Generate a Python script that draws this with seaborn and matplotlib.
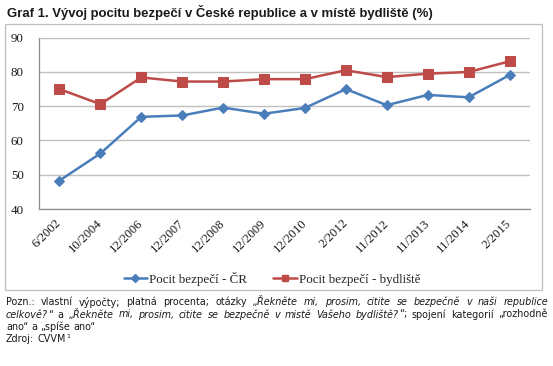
import matplotlib
matplotlib.use('Agg')
import matplotlib.pyplot as plt
import seaborn as sns
import pandas as pd
from matplotlib.patches import Rectangle
from matplotlib.lines import Line2D

periods = ["6/2002", "10/2004", "12/2006", "12/2007", "12/2008", "12/2009",
           "12/2010", "2/2012", "11/2012", "11/2013", "11/2014", "2/2015"]
pocit_cr = [48.3, 56.2, 66.9, 67.3, 69.6, 67.8, 69.5, 75.0, 70.3, 73.3, 72.6, 79.1]
pocit_bydliste = [75.0, 70.6, 78.4, 77.2, 77.2, 77.9, 77.9, 80.5, 78.5, 79.5, 80.0, 83.1]
y_ticks = [40, 50, 60, 70, 80, 90]
series_names = ["Pocit bezpečí - ČR", "Pocit bezpečí - bydliště"]
colors = ["#4a7ebb", "#be4b48"]

title = "Graf 1. Vývoj pocitu bezpečí v České republice a v místě bydliště (%)"

sns.set_theme(style="white")
plt.rcParams['font.family'] = ['DejaVu Sans']

W, H = 553, 366
fig = plt.figure(figsize=(W / 100, H / 100), dpi=100)
renderer = fig.canvas.get_renderer()

def fx(px):
    return px / W

def fy(py):
    return 1 - py / H

ax_left, ax_right, ax_top, ax_bottom = 39, 530, 37.7, 209
ax = fig.add_axes([fx(ax_left), fy(ax_bottom), fx(ax_right - ax_left), (ax_bottom - ax_top) / H])

df = pd.DataFrame({"pos": list(range(len(periods))), "cr": pocit_cr, "byd": pocit_bydliste})

sns.lineplot(data=df, x="pos", y="cr", ax=ax, color=colors[0], marker="D",
             markersize=5.4, markeredgecolor=colors[0], linewidth=1.8, sort=False)
sns.lineplot(data=df, x="pos", y="byd", ax=ax, color=colors[1], marker="s",
             markersize=6.6, markeredgecolor=colors[1], linewidth=1.8, sort=False)

tick_font = "Liberation Serif"
ax.set_xlim(-0.5, len(periods) - 0.5)
ax.set_ylim(40, 90)
ax.set_yticks(y_ticks)
ax.set_xticks(range(len(periods)))
ax.set_xticklabels(periods, rotation=45, ha="right", va="center", rotation_mode="anchor",
                   family=tick_font, fontsize=9.2, color="#1a1a1a")
ax.set_yticklabels([str(v) for v in y_ticks], family=tick_font, fontsize=9.4, color="#1a1a1a")
ax.set_xlabel("")
ax.set_ylabel("")
ax.grid(axis="y", color="#c0c0c0", linewidth=1.0)
ax.set_axisbelow(True)
for s in ["top", "right"]:
    ax.spines[s].set_visible(False)
for s in ["left", "bottom"]:
    ax.spines[s].set_color("#8c8c8c")
    ax.spines[s].set_linewidth(0.9)
ax.tick_params(axis="y", length=0, pad=11)
ax.tick_params(axis="x", length=0, pad=9)

handles = [Line2D([], [], color=colors[0], marker="D", markersize=4, linewidth=1.8),
           Line2D([], [], color=colors[1], marker="s", markersize=5, linewidth=1.8)]
fig.legend(handles, series_names, loc="center", bbox_to_anchor=(fx(272), fy(279)), ncol=2,
           frameon=False, prop={"family": tick_font, "size": 9.4},
           handlelength=1.8, handletextpad=0.15, columnspacing=2.0)

# frame around chart
fig.patches.append(Rectangle((fx(5), fy(290)), fx(542 - 5), (290 - 24) / H,
                             transform=fig.transFigure, fill=False,
                             edgecolor="#bfbfbf", linewidth=0.9))

# title fitted to the reference width
title_font = "Liberation Sans"
tt = fig.text(fx(7), fy(13), title, fontsize=10, fontweight="bold", va="center", ha="left",
              color="#1a1a1a", family=title_font)
tw = tt.get_window_extent(renderer).width
tt.set_fontsize(10 * (428 / tw))

# note text with mixed styles, justified lines
N = "normal"
I = "italic"
note_lines = [
    ([[("Pozn.:", N)], [("vlastní", N)], [("výpočty;", N)], [("platná", N)], [("procenta;", N)],
      [("otázky", N)], [("„Řekněte", I)], [("mi,", I)], [("prosim,", I)], [("citite", I)],
      [("se", I)], [("bezpečně", I)], [("v", I)], [("naši", I)], [("republice", I)]], True),
    ([[("celkově?", I), ("“", N)], [("a", N)], [("„Řekněte", I)], [("mi,", I)], [("prosim,", I)],
      [("citite", I)], [("se", I)], [("bezpečně", I)], [("v", I)], [("mistě", I)], [("Vašeho", I)],
      [("bydliště?", I), ("“;", N)], [("spojení", N)], [("kategorií", N)], [("„rozhodně", N)]], True),
    ([[("ano“", N)], [("a", N)], [("„spíše", N)], [("ano“", N)]], False),
    ([[("Zdroj:", N)], [("CVVM", N)]], False),
]
note_size = 6.9
line_y = [302, 314.5, 327, 339.5]
x0, x1 = 6, 548

def measure(txt, style):
    t = fig.text(0, 0, txt, fontsize=note_size, style=style)
    w = t.get_window_extent(renderer).width
    t.remove()
    return w

space_w = measure("a a", N) - measure("aa", N)
for (words, justify), yy in zip(note_lines, line_y):
    widths = [sum(measure(p, st) for p, st in wd) for wd in words]
    if justify:
        gap = (x1 - x0 - sum(widths)) / (len(words) - 1)
    else:
        gap = space_w
    x = x0
    last_x = x
    for wd, w in zip(words, widths):
        xx = x
        for p, st in wd:
            fig.text(fx(xx), fy(yy), p, fontsize=note_size, style=st, va="center",
                     ha="left", color="#1a1a1a")
            xx += measure(p, st)
        last_x = xx
        x += w + gap
    if words[-1][0][0] == "CVVM":
        fig.text(fx(last_x + 0.5), fy(yy - 3), "1", fontsize=4.4, va="center", ha="left",
                 color="#1a1a1a")

fig.savefig("out.png", dpi=100)
